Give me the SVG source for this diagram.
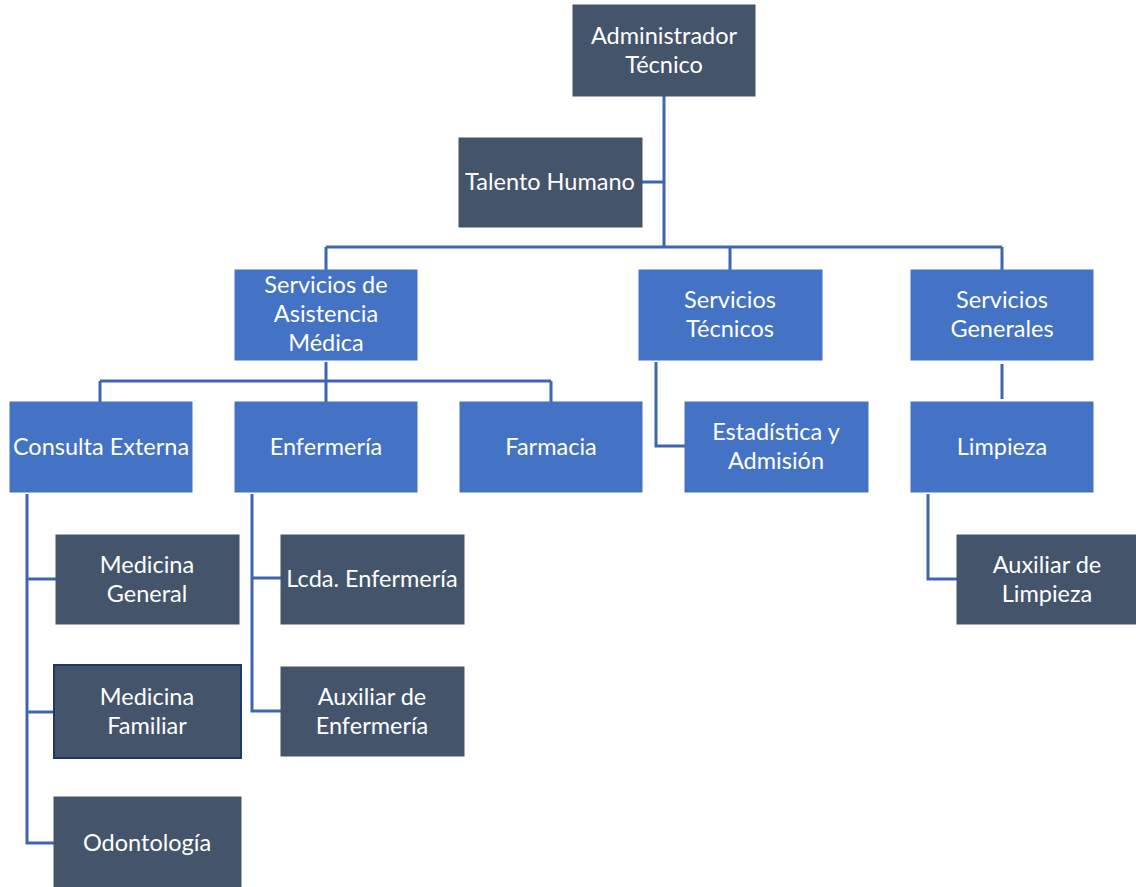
<svg xmlns="http://www.w3.org/2000/svg" width="1136" height="887" viewBox="0 0 1136 887">
<style>
.dk{fill:#44546A;stroke:#44546A;stroke-width:1}
.bl{fill:#4472C4;stroke:#4472C4;stroke-width:1}
.bd{stroke:#1F3864;stroke-width:2}
text{font-family:Lato,"Open Sans","Liberation Sans",sans-serif;font-size:23.5px;fill:#FFFFFF;text-anchor:middle}
.c{fill:none;stroke:#3F65B0;stroke-width:3}
</style>
<rect width="1136" height="887" fill="#FFFFFF"/>
<g id="connectors">
<path class="c" d="M664 96V247M642 182H664M326 247H1002M326 247V270M730 247V270M1002 247V270"/>
<path class="c" d="M326 362V381M100 381H551M100 381V402M326 381V402M551 381V402"/>
<path class="c" d="M656 362V446H685"/>
<path class="c" d="M1002 364V399"/>
<path class="c" d="M27 494V843H54M27 579H56M27 712H54"/>
<path class="c" d="M252 494V711H281M252 578H281"/>
<path class="c" d="M928 494V579H957"/>
</g>
<g id="n-admin"><rect class="dk" x="573" y="5" width="182" height="91"/><text x="664" y="44">Administrador</text><text x="664" y="73">Técnico</text></g>
<g id="n-talento"><rect class="dk" x="459" y="138" width="183" height="89"/><text x="550" y="190">Talento Humano</text></g>
<g id="n-sam"><rect class="bl" x="235" y="270" width="182" height="90"/><text x="326" y="293">Servicios de</text><text x="326" y="322">Asistencia</text><text x="326" y="351">Médica</text></g>
<g id="n-stec"><rect class="bl" x="639" y="270" width="183" height="90"/><text x="730" y="308">Servicios</text><text x="730" y="337">Técnicos</text></g>
<g id="n-sgen"><rect class="bl" x="911" y="270" width="182" height="90"/><text x="1002" y="308">Servicios</text><text x="1002" y="337">Generales</text></g>
<g id="n-consulta"><rect class="bl" x="10" y="402" width="182" height="90"/><text x="101" y="455">Consulta Externa</text></g>
<g id="n-enfermeria"><rect class="bl" x="235" y="402" width="182" height="90"/><text x="326" y="455">Enfermería</text></g>
<g id="n-farmacia"><rect class="bl" x="460" y="402" width="182" height="90"/><text x="551" y="455">Farmacia</text></g>
<g id="n-estadistica"><rect class="bl" x="685" y="402" width="183" height="90"/><text x="776" y="440">Estadística y</text><text x="776" y="469">Admisión</text></g>
<g id="n-limpieza"><rect class="bl" x="911" y="402" width="182" height="90"/><text x="1002" y="455">Limpieza</text></g>
<g id="n-medgen"><rect class="dk" x="56" y="535" width="183" height="89"/><text x="147" y="573">Medicina</text><text x="147" y="602">General</text></g>
<g id="n-medfam"><rect class="dk bd" x="54" y="665" width="187" height="93"/><text x="147" y="705">Medicina</text><text x="147" y="734">Familiar</text></g>
<g id="n-odonto"><rect class="dk" x="54" y="797" width="187" height="90"/><text x="147" y="851">Odontología</text></g>
<g id="n-lcda"><rect class="dk" x="281" y="535" width="183" height="89"/><text x="372" y="587">Lcda. Enfermería</text></g>
<g id="n-auxenf"><rect class="dk" x="281" y="667" width="183" height="89"/><text x="372" y="705">Auxiliar de</text><text x="372" y="734">Enfermería</text></g>
<g id="n-auxlim"><rect class="dk" x="957" y="535" width="179" height="89"/><text x="1047" y="573">Auxiliar de</text><text x="1047" y="602">Limpieza</text></g>
</svg>
